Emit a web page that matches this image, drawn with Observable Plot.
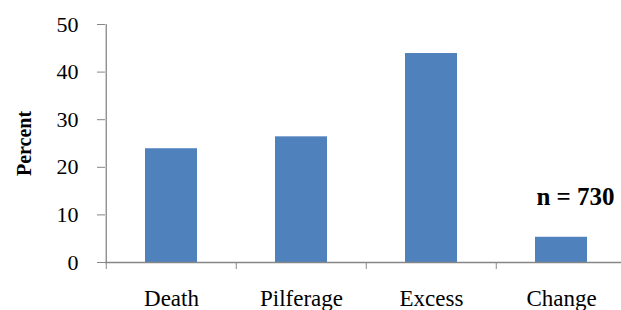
<!DOCTYPE html>
<html>
<head>
<meta charset="utf-8">
<script src="https://cdn.jsdelivr.net/npm/d3@7"></script>
<script src="https://cdn.jsdelivr.net/npm/@observablehq/plot@0.6"></script>
<style>
  html, body { margin: 0; padding: 0; background: #fff; overflow: hidden; }
  #chart svg { overflow: hidden; }
  #chart svg text { font-family: "Liberation Serif", "Times New Roman", serif !important; }
</style>
</head>
<body>
<div id="chart"></div>
<script>
const categories = ["Death", "Pilferage", "Excess", "Change"];
const percents = [23.9, 26.4, 43.9, 5.3];
const yTicks = [0, 10, 20, 30, 40, 50];
const yLabel = "Percent";
const noteText = "n = 730";
const noteCategory = "Change";
const noteValue = 13.7;

const data = categories.map((c, i) => ({category: c, percent: percents[i]}));

const W = 621, H = 310;
const mL = 105, mR = -6, mT = 24, mB = 48;
const step = (W - mL - mR) / categories.length;
const axisColor = "#868686";

const chart = Plot.plot({
  width: W,
  height: H,
  marginLeft: mL,
  marginRight: mR,
  marginTop: mT,
  marginBottom: mB,
  style: {color: "black", background: "white", fontFamily: "'Liberation Serif', 'Times New Roman', serif"},
  x: {domain: categories, paddingInner: 0.6, paddingOuter: 0.3, align: 0.5},
  y: {domain: [yTicks[0], yTicks[yTicks.length - 1]]},
  marks: [
    Plot.barY(data, {x: "category", y: "percent", fill: "#4F81BD"}),
    Plot.ruleY([yTicks[0]], {stroke: axisColor, strokeWidth: 1.3}),
    Plot.ruleX([categories[0]], {y1: yTicks[0], y2: yTicks[yTicks.length - 1], dx: -step / 2, stroke: axisColor, strokeWidth: 1.3}),
    Plot.axisY({ticks: yTicks, tickSize: 8, tickPadding: 19, stroke: axisColor, fontSize: 22, label: null}),
    Plot.axisX({tickSize: 0, tickPadding: 27, fontSize: 23, label: null}),
    Plot.axisX({text: null, tickSize: 7, dx: -step / 2, stroke: axisColor, label: null}),
    Plot.text([yLabel], {frameAnchor: "left", dx: -81, rotate: -90, fontSize: 20, fontWeight: "bold", textAnchor: "middle", lineAnchor: "middle"}),
    Plot.text([noteText], {x: [noteCategory], y: [noteValue], dx: 14, fontSize: 25, fontWeight: "bold", textAnchor: "middle", lineAnchor: "middle"})
  ]
});
document.getElementById("chart").appendChild(chart);
</script>
</body>
</html>
